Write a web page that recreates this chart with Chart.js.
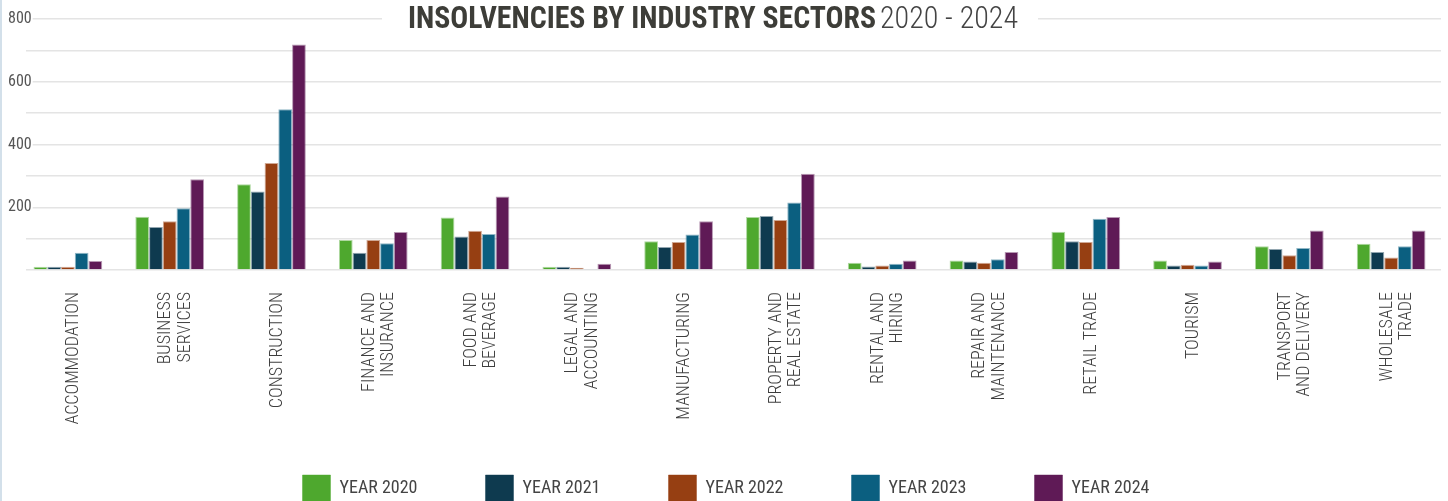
<!DOCTYPE html>
<html>
<head>
<meta charset="utf-8">
<script src="https://cdn.jsdelivr.net/npm/chart.js@4.4.1/dist/chart.umd.min.js"></script>
<style>
    html, body { margin: 0; padding: 0; background: #fff; overflow: hidden; }
    #wrap { position: relative; width: 1448px; height: 501px; overflow: hidden; }
    #edge { position: absolute; left: 0; top: 0; width: 2px; height: 501px; background: #d3e0ea; }
    canvas { display: block; }
</style>
</head>
<body>
<div id="wrap">
    <canvas id="sectorsChart" width="1452" height="501"></canvas>
    <div id="edge"></div>
</div>
<script>
// categories and values
const categories = [
    'ACCOMMODATION', ['BUSINESS', 'SERVICES'], 'CONSTRUCTION', ['FINANCE AND', 'INSURANCE'],
    ['FOOD AND', 'BEVERAGE'], ['LEGAL AND', 'ACCOUNTING'], 'MANUFACTURING', ['PROPERTY AND', 'REAL ESTATE'],
    ['RENTAL AND', 'HIRING'], ['REPAIR AND', 'MAINTENANCE'], 'RETAIL TRADE', 'TOURISM',
    ['TRANSPORT', 'AND DELIVERY'], ['WHOLESALE', 'TRADE']
];
const seriesNames = ['YEAR 2020', 'YEAR 2021', 'YEAR 2022', 'YEAR 2023', 'YEAR 2024'];
const year2020 = [10, 170, 273, 96, 167, 10, 92, 169, 23, 30, 122, 30, 76, 84];
const year2021 = [10, 137, 250, 55, 107, 10, 73, 172, 11, 27, 92, 14, 67, 57];
const year2022 = [10, 155, 341, 96, 125, 7, 89, 159, 14, 23, 89, 17, 47, 40];
const year2023 = [55, 197, 512, 85, 115, 3, 113, 215, 20, 34, 163, 14, 70, 76];
const year2024 = [29, 289, 719, 121, 234, 20, 155, 307, 30, 57, 169, 27, 126, 126];
const yTicks = [200, 400, 600, 800];

const colors = ['#4ea82e', '#0e3a4f', '#963f12', '#0b5f80', '#5f1a56'];
const edges = ['rgba(78,168,46,0.45)', 'rgba(14,58,79,0.45)', 'rgba(150,63,18,0.45)',
    'rgba(11,95,128,0.45)', 'rgba(95,26,86,0.45)'];

const condensed = "'Roboto Condensed', Roboto, sans-serif";

// gridlines in the reference start/stop a bit inside the plot
const gridInset = {
    id: 'gridInset',
    beforeDatasetsDraw(chart) {
        const { ctx, chartArea } = chart;
        ctx.save();
        ctx.fillStyle = '#fff';
        ctx.fillRect(chartArea.left - 2, chartArea.top - 3, 11, chartArea.bottom - chartArea.top + 6);
        ctx.fillRect(1441, chartArea.top - 3, 20, chartArea.bottom - chartArea.top + 6);
        ctx.restore();
    }
};

// title sits on a white band over the top gridline
const titleBand = {
    id: 'titleBand',
    afterDraw(chart) {
        const ctx = chart.ctx;
        const boldText = 'INSOLVENCIES BY INDUSTRY SECTORS';
        const lightText = '2020 - 2024';
        ctx.save();
        ctx.fillStyle = '#fff';
        ctx.fillRect(382, 0, 656, 36);
        ctx.textBaseline = 'alphabetic';
        ctx.textAlign = 'left';
        ctx.font = "bold 31px 'Roboto Condensed'";
        let w = ctx.measureText(boldText).width;
        ctx.fillStyle = '#3d3d38';
        ctx.translate(408, 28);
        ctx.scale(468 / w, 1);
        ctx.fillText(boldText, 0, 0);
        ctx.restore();

        ctx.save();
        ctx.textBaseline = 'alphabetic';
        ctx.textAlign = 'left';
        ctx.font = "300 31px 'Roboto Condensed'";
        w = ctx.measureText(lightText).width;
        ctx.fillStyle = '#444';
        ctx.translate(880, 28);
        ctx.scale(138 / w, 1);
        ctx.fillText(lightText, 0, 0);
        ctx.restore();
    }
};

const allSeries = [year2020, year2021, year2022, year2023, year2024];
const isSingleLine = (i) => !Array.isArray(categories[i]);

const ctx = document.getElementById('sectorsChart').getContext('2d');
new Chart(ctx, {
    type: 'bar',
    data: {
        labels: categories,
        datasets: allSeries.map((values, i) => ({
            label: seriesNames[i],
            data: values,
            backgroundColor: colors[i],
            borderColor: edges[i],
            borderWidth: 1,
            barPercentage: 1,
            categoryPercentage: 0.675,
        })),
    },
    options: {
        responsive: false,
        animation: false,
        layout: { padding: { top: 19, bottom: -11, left: 0, right: 0 } },
        plugins: {
            title: { display: false },
            tooltip: { enabled: false },
            legend: {
                position: 'bottom',
                // empty title with negative padding pulls the items up
                title: { display: true, text: '', font: { size: 1 }, padding: { top: -34.2, bottom: 0 } },
                labels: {
                    boxWidth: 28,
                    boxHeight: 27,
                    padding: 68,
                    color: '#444',
                    font: { family: condensed, size: 18 },
                },
            },
        },
        scales: {
            x: {
                grid: { display: false, drawTicks: false },
                border: { display: false },
                ticks: {
                    autoSkip: false,
                    maxRotation: 90,
                    minRotation: 90,
                    padding: 22,
                    labelOffset: -4,
                    color: '#3e3e3e',
                    font: { family: condensed, size: 18, weight: 300, lineHeight: 1.08 },
                    // transparent backdrop on one-line labels nudges them like the reference
                    showLabelBackdrop: (c) => isSingleLine(c.index),
                    backdropColor: 'rgba(255,255,255,0)',
                },
                afterFit(scale) {
                    scale.height = 170;
                },
            },
            y: {
                min: 0,
                max: 800,
                border: { display: false },
                grid: { color: '#e4e4e4', lineWidth: 1.5, drawTicks: false },
                ticks: {
                    stepSize: 100,
                    mirror: true,
                    padding: -9,
                    z: 1,
                    color: '#555',
                    font: { family: condensed, size: 16 },
                    callback: (value) => (yTicks.includes(value) ? String(value) : ''),
                    showLabelBackdrop: (c) => yTicks.includes(c.tick.value),
                    backdropColor: '#fff',
                    backdropPadding: 1,
                },
                afterFit(scale) {
                    scale.width = 17;
                },
            },
        },
    },
    plugins: [gridInset, titleBand],
});
</script>
</body>
</html>
